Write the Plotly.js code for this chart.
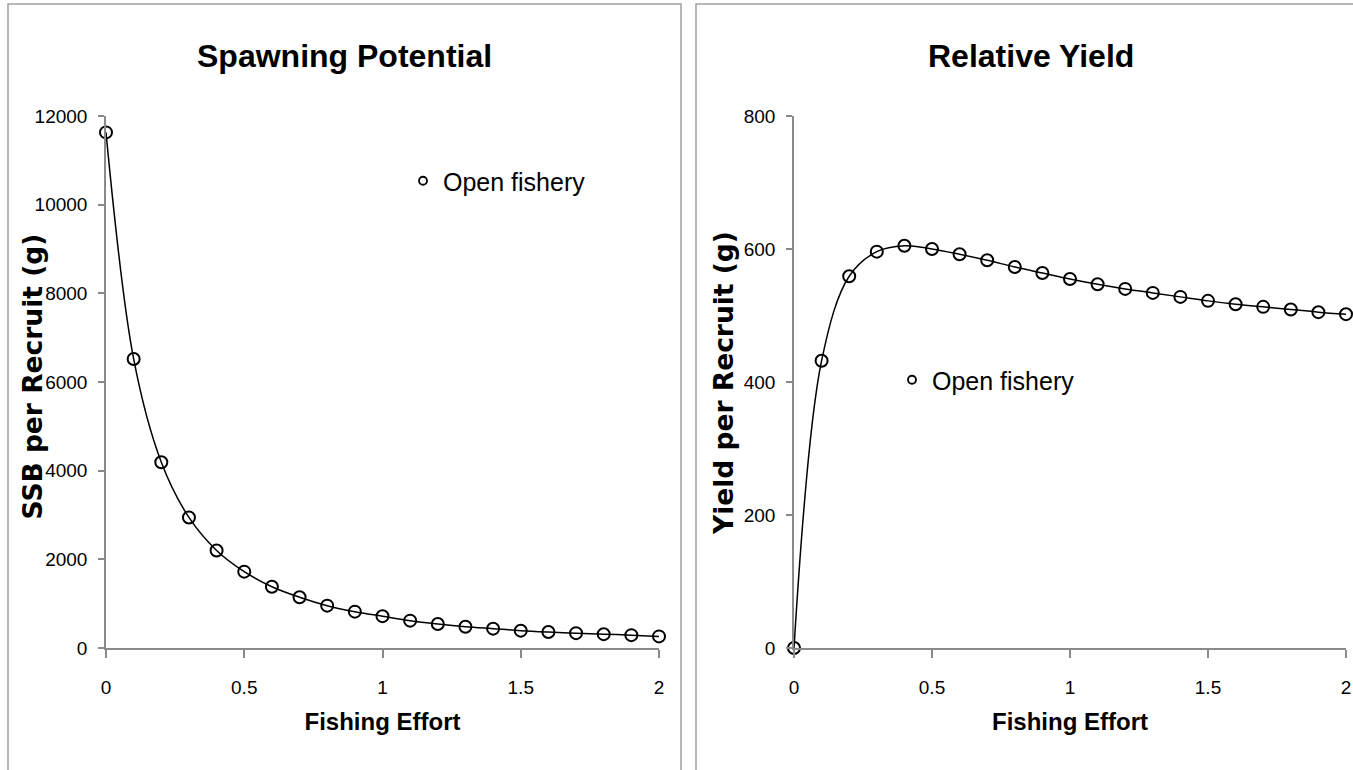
<!DOCTYPE html>
<html>
<head>
<meta charset="utf-8">
<script src="https://cdn.plot.ly/plotly-3.0.1.min.js"></script>
<style>html,body{margin:0;padding:0;background:#fff;}#chart{width:1353px;height:770px;}</style>
</head>
<body>
<div id="chart"></div>
<script>
// ---- data ----
const effort = [0, 0.1, 0.2, 0.3, 0.4, 0.5, 0.6, 0.7, 0.8, 0.9, 1.0, 1.1, 1.2, 1.3, 1.4, 1.5, 1.6, 1.7, 1.8, 1.9, 2.0];
const ssbPerRecruit = [11630, 6520, 4190, 2945, 2200, 1722, 1382, 1145, 955, 820, 718, 617, 542, 481, 436, 391, 360, 335, 312, 290, 262];
const yieldPerRecruit = [0, 432, 559, 596, 605, 600, 592, 583, 573, 564, 555, 547, 540, 534, 528, 522, 517, 513, 509, 505, 502];
const seriesName = "Open fishery";
const leftTitle = "Spawning Potential";
const rightTitle = "Relative Yield";
const xTitle = "Fishing Effort";
const leftYTitle = "SSB per Recruit (g)";
const rightYTitle = "Yield per Recruit (g)";
const xTicks = [0, 0.5, 1, 1.5, 2];
const xTickText = ["0", "0.5", "1", "1.5", "2"];
const leftYTicks = [0, 2000, 4000, 6000, 8000, 10000, 12000];
const leftYTickText = ["0", "2000", "4000", "6000", "8000", "10000", "12000"];
const rightYTicks = [0, 200, 400, 600, 800];
const rightYTickText = ["0", "200", "400", "600", "800"];

const W = 1353, H = 770;
const px = v => v / W;
const py = v => 1 - v / H;

const sans = "Liberation Sans, Arial, sans-serif";
const wide = "DejaVu Sans, Verdana, sans-serif";
const axisGray = "#8a8a8a";

function lineTrace(x, y, xa, ya) {
  return {
    x: x, y: y, xaxis: xa, yaxis: ya, type: "scatter", mode: "lines+markers",
    line: {color: "#000", width: 1.5, shape: "spline", smoothing: 1},
    marker: {symbol: "circle-open", size: 12, color: "#000", line: {width: 2, color: "#000"}},
    cliponaxis: false, showlegend: false, hoverinfo: "x+y"
  };
}
function legendTrace(xa, ya, leg) {
  return {
    x: [null], y: [null], xaxis: xa, yaxis: ya, type: "scatter", mode: "markers",
    name: seriesName, legend: leg,
    marker: {symbol: "circle-open", size: 8, color: "#000", line: {width: 1.8, color: "#000"}},
    showlegend: true
  };
}

const data = [
  lineTrace(effort, ssbPerRecruit, "x", "y"),
  lineTrace(effort, yieldPerRecruit, "x2", "y2"),
  legendTrace("x", "y", "legend"),
  legendTrace("x2", "y2", "legend2")
];

function xAxis(d0, d1, anchor) {
  return {
    domain: [px(d0), px(d1)], anchor: anchor, range: [0, 2],
    tickvals: xTicks, ticktext: xTickText,
    showline: true, linecolor: axisGray, linewidth: 1.5,
    ticks: "outside", ticklen: 8, tickcolor: axisGray, tickwidth: 1.5,
    ticklabelstandoff: 13,
    showgrid: false, zeroline: false,
    tickfont: {family: sans, size: 19, color: "#000"},
    title: {text: xTitle, font: {family: sans, size: 24, color: "#000", weight: "bold"}, standoff: 17}
  };
}
function yAxis(range, ticks, text, anchor) {
  return {
    domain: [py(648), py(116)], anchor: anchor, range: range,
    tickvals: ticks, ticktext: text,
    showline: true, linecolor: axisGray, linewidth: 1.5,
    ticks: "outside", ticklen: 6, tickcolor: axisGray, tickwidth: 1.5,
    ticklabelstandoff: 7,
    showgrid: false, zeroline: false,
    tickfont: {family: sans, size: 19, color: "#000"}
  };
}

const layout = {
  width: W, height: H,
  margin: {l: 0, r: 0, t: 0, b: 0},
  paper_bgcolor: "#fff", plot_bgcolor: "rgba(0,0,0,0)",
  showlegend: true,
  xaxis: xAxis(106, 659, "y"),
  yaxis: yAxis([0, 12000], leftYTicks, leftYTickText, "x"),
  xaxis2: xAxis(794, 1346, "y2"),
  yaxis2: yAxis([0, 800], rightYTicks, rightYTickText, "x2"),
  legend: {x: px(403), y: py(181), xanchor: "left", yanchor: "middle", itemwidth: 30,
           font: {family: sans, size: 25, color: "#000"}, bgcolor: "rgba(0,0,0,0)"},
  legend2: {x: px(892), y: py(380), xanchor: "left", yanchor: "middle", itemwidth: 30,
           font: {family: sans, size: 25, color: "#000"}, bgcolor: "rgba(0,0,0,0)"},
  annotations: [
    {text: "<b>" + leftTitle + "</b>", xref: "paper", yref: "paper", x: px(344), y: py(56),
     xanchor: "center", yanchor: "middle", showarrow: false, font: {family: sans, size: 32, color: "#000"}},
    {text: "<b>" + rightTitle + "</b>", xref: "paper", yref: "paper", x: px(1031), y: py(56),
     xanchor: "center", yanchor: "middle", showarrow: false, font: {family: sans, size: 32, color: "#000"}},
    {text: "<b>" + leftYTitle + "</b>", xref: "paper", yref: "paper", x: px(31.5), y: py(377),
     xanchor: "center", yanchor: "middle", textangle: -90, showarrow: false, font: {family: wide, size: 26.5, color: "#000"}},
    {text: "<b>" + rightYTitle + "</b>", xref: "paper", yref: "paper", x: px(723), y: py(383),
     xanchor: "center", yanchor: "middle", textangle: -90, showarrow: false, font: {family: wide, size: 26.5, color: "#000"}}
  ],
  shapes: [
    {type: "rect", xref: "paper", yref: "paper", x0: px(8), x1: px(681), y0: -0.05, y1: py(4),
     line: {color: "#a0a0a0", width: 1.5}, fillcolor: "rgba(0,0,0,0)", layer: "below"},
    {type: "rect", xref: "paper", yref: "paper", x0: px(696), x1: 1.05, y0: -0.05, y1: py(4),
     line: {color: "#a0a0a0", width: 1.5}, fillcolor: "rgba(0,0,0,0)", layer: "below"}
  ]
};

Plotly.newPlot("chart", data, layout, {displayModeBar: false, responsive: false});
</script>
</body>
</html>
